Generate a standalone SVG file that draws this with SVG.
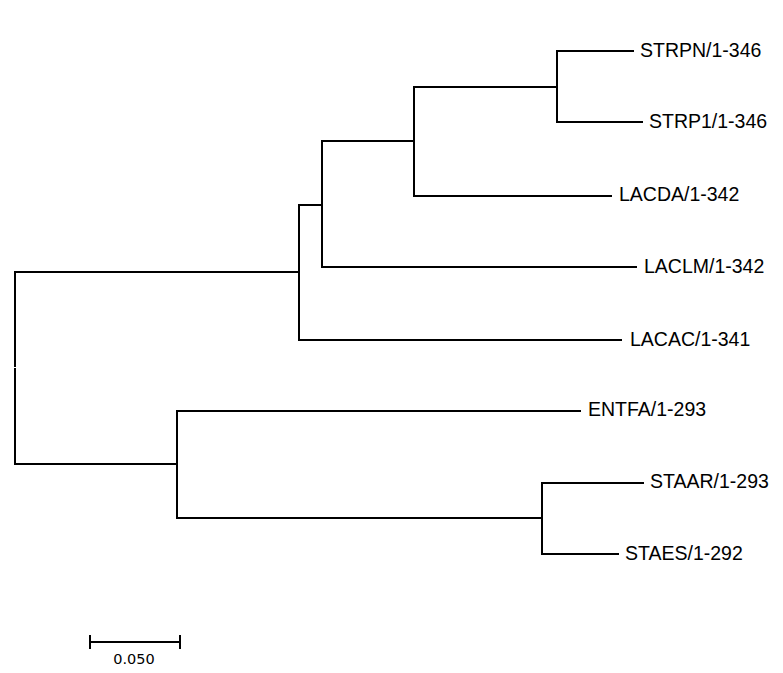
<svg xmlns="http://www.w3.org/2000/svg" width="783" height="673" viewBox="0 0 783 673">
<style>
.e{stroke:#000;stroke-width:2;fill:none;stroke-linecap:square}
.t{font-family:"Liberation Sans",Arial,sans-serif;font-size:19.5px;fill:#000}
.s{font-family:"DejaVu Sans",sans-serif;font-size:14.5px;fill:#000}
</style>
<rect width="783" height="673" fill="#fff"/>
<g id="connectors">
<path class="e" d="M15,272V366M15,369V464"/>
<path class="e" d="M15,272H299M15,464H177"/>
<path class="e" d="M299,205V340M299,340H621M299,205H322"/>
<path class="e" d="M322,141V267M322,267H636M322,141H414"/>
<path class="e" d="M414,87V196M414,196H611M414,87H557"/>
<path class="e" d="M557,51V122M557,51H633M557,122H642"/>
<path class="e" d="M177,411V518M177,411H580M177,518H542"/>
<path class="e" d="M542,483V554M542,483H643M542,554H618"/>
</g>
<g id="STRPN"><text class="t" x="640" y="57">STRPN/1-346</text></g>
<g id="STRP1"><text class="t" x="649" y="128">STRP1/1-346</text></g>
<g id="LACDA"><text class="t" x="619" y="201">LACDA/1-342</text></g>
<g id="LACLM"><text class="t" x="644" y="273">LACLM/1-342</text></g>
<g id="LACAC"><text class="t" x="630" y="346">LACAC/1-341</text></g>
<g id="ENTFA"><text class="t" x="588" y="416">ENTFA/1-293</text></g>
<g id="STAAR"><text class="t" x="650" y="488">STAAR/1-293</text></g>
<g id="STAES"><text class="t" x="625" y="560">STAES/1-292</text></g>
<g id="scale">
<path class="e" d="M90,642H180M90,636V648M180,636V648"/>
<text class="s" x="134" y="664" text-anchor="middle">0.050</text>
</g>
</svg>
